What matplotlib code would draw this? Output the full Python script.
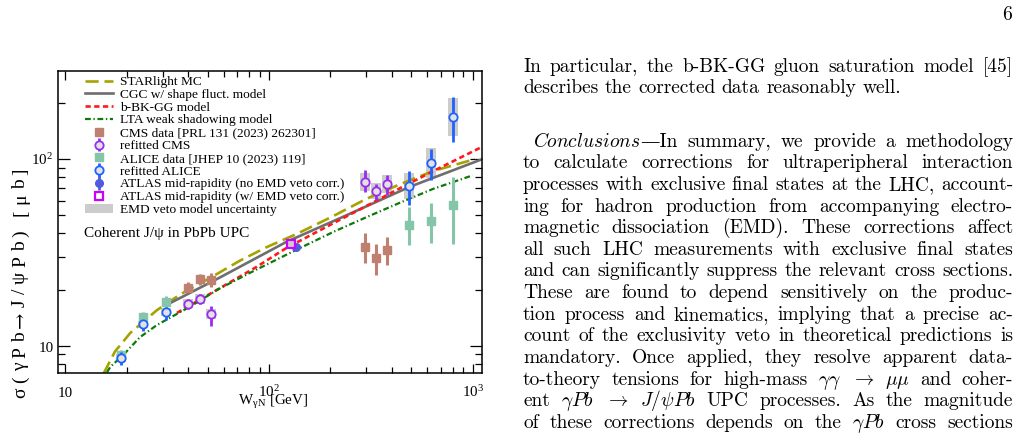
import numpy as np
import matplotlib
matplotlib.use("Agg")
import matplotlib.pyplot as plt
from matplotlib.lines import Line2D
from matplotlib.patches import Patch
from matplotlib.ticker import FixedLocator, LogLocator, NullFormatter
from matplotlib.transforms import blended_transform_factory, offset_copy

# ---------------- data ----------------
starlight_w = [15.4, 17.5, 20.8, 28.1, 36.5, 53.1, 72.0, 97.4, 137, 206, 302, 440, 640, 940, 1030]
starlight_s = [7.1, 9.3, 11.7, 15.5, 18.8, 23.6, 28.6, 33.8, 39.8, 49.5, 61.5, 73.5, 86.5, 97.5, 100.5]

cgc_w = [31.2, 56.4, 122, 223, 493, 1110]
cgc_s = [16.5, 23.0, 36.1, 48.3, 71.3, 100]

bbk_w = [35.3, 55.3, 87.0, 122, 207, 302, 440, 642, 1120]
bbk_s = [15.0, 19.9, 26.5, 33.5, 45.4, 56.3, 70.0, 86.5, 117]

lta_w = [16.0, 16.6, 19.2, 23.2, 28.1, 40.9, 56.4, 80, 137, 207, 302, 440, 642, 1000]
lta_s = [7.2, 7.7, 8.9, 11.1, 12.9, 16.2, 20.1, 24.5, 32.8, 40.8, 49.0, 58.5, 69.5, 82.0]

cms_w = [40.1, 45.8, 51.9, 296, 334, 380]
cms_s = [20.4, 22.7, 22.4, 34.0, 29.7, 32.6]
cms_lo = [19.4, 21.2, 20.6, 27.8, 23.9, 27.1]
cms_hi = [22.0, 24.3, 24.6, 40.2, 35.1, 38.5]

rcms_s = [16.8, 17.8, 14.8, 75.5, 67.6, 73.7]
rcms_lo = [15.8, 16.7, 12.8, 67.0, 60.5, 64.4]
rcms_hi = [17.9, 19.0, 16.4, 87.6, 73.7, 82.4]
rcms_emd_lo = [15.9, 16.7, 13.9, 67.5, 61.2, 65.9]
rcms_emd_hi = [17.8, 18.9, 15.7, 84.4, 74.6, 82.4]

alice_w = [18.7, 24.0, 31.1, 488, 625, 805]
alice_s = [8.92, 14.3, 17.2, 44.4, 46.7, 56.9]
alice_lo = [8.3, 13.2, 16.1, 34.7, 35.6, 35.1]
alice_hi = [9.5, 15.2, 18.5, 55.7, 58.3, 80.4]

ralice_s = [8.56, 13.0, 15.1, 72.2, 95.9, 169]
ralice_lo = [7.88, 12.0, 13.7, 56.9, 77.4, 124]
ralice_hi = [9.29, 13.7, 16.2, 86.5, 114, 217]
ralice_emd_lo = [8.15, 12.4, 14.4, 61.5, 79.7, 134]
ralice_emd_hi = [9.0, 13.65, 15.9, 84.8, 115.5, 214]

atlas_w = [135]
atlas_s = [33.7]
atlas_lo = [32.6]
atlas_hi = [34.8]

ratlas_w = [128]
ratlas_s = [35.1]
ratlas_lo = [34.0]
ratlas_hi = [36.2]
ratlas_emd_lo = [33.4]
ratlas_emd_hi = [36.9]

legend_labels = [
    "STARlight MC",
    "CGC w/ shape fluct. model",
    "b-BK-GG model",
    "LTA weak shadowing model",
    "CMS data [PRL 131 (2023) 262301]",
    "refitted CMS",
    "ALICE data [JHEP 10 (2023) 119]",
    "refitted ALICE",
    "ATLAS mid-rapidity (no EMD veto corr.)",
    "ATLAS mid-rapidity (w/ EMD veto corr.)",
    "EMD veto model uncertainty",
]
x_tick_vals = [10, 100, 1000]
x_tick_text = ["10", r"$\mathregular{10^{2}}$", r"$\mathregular{10^{3}}$"]
y_tick_vals = [10, 100]
y_tick_text = ["10", r"$\mathregular{10^{2}}$"]
x_label = r"W$_{\mathregular{\gamma N}}$ [GeV]"
y_label = "\u03c3(\u03b3Pb\u2192J/\u03c8Pb) [\u03bcb]"
panel_note = "Coherent J/\u03c8 in PbPb UPC"

page_number = "6"
body_lines = [
    (["In particular, the b-BK-GG gluon saturation model [45]"], True, 0),
    (["describes the corrected data reasonably well."], False, 0),
    ([[r"$\mathit{Conclusions}$", "\u2014In"], "summary, we provide a methodology"], True, 10),
    (["to calculate corrections for ultraperipheral interaction"], True, 0),
    (["processes with exclusive final states at the LHC, account-"], True, 0),
    (["ing for hadron production from accompanying electro-"], True, 0),
    (["magnetic dissociation (EMD). These corrections affect"], True, 0),
    (["all such LHC measurements with exclusive final states"], True, 0),
    (["and can significantly suppress the relevant cross sections."], True, 0),
    (["These are found to depend sensitively on the produc-"], True, 0),
    (["tion process and kinematics, implying that a precise ac-"], True, 0),
    (["count of the exclusivity veto in theoretical predictions is"], True, 0),
    (["mandatory. Once applied, they resolve apparent data-"], True, 0),
    (["to-theory tensions for high-mass", r"$\gamma\gamma$", r"$\rightarrow$", r"$\mu\mu$", "and coher-"], True, 0),
    (["ent", r"$\gamma Pb$", r"$\rightarrow$", r"$J/\psi Pb$", "UPC processes. As the magnitude"], True, 0),
    (["of these corrections depends on the", r"$\gamma Pb$", "cross sections"], True, 0),
]

# ---------------- styles ----------------
W_PX, H_PX = 1019, 448
plt.rcParams["mathtext.fontset"] = "stix"
SERIF = ["Liberation Serif", "DejaVu Serif"]
plt.rcParams["font.family"] = SERIF

C_STAR = "#a6a300"
C_CGC = "#6e6e6e"
C_BBK = "#ff1a1a"
C_LTA = "#0a7a0a"
C_CMS = "#c0806f"
C_RCMS = "#9a2cf2"
C_ALICE = "#84c6a7"
C_RALICE = "#1f62ff"
C_ATLAS = "#4f5ce0"
C_RATLAS = "#cc00ff"
C_EMD = "#cccccc"

fig = plt.figure(figsize=(W_PX / 100, H_PX / 100), dpi=100)
renderer = fig.canvas.get_renderer()
ax = fig.add_axes([58 / W_PX, 1 - 373 / H_PX, 424 / W_PX, 302 / H_PX])
ax.set_xscale("log")
ax.set_yscale("log")
ax.set_xlim(9.19, 1113)
ax.set_ylim(7.14, 297.7)

# EMD uncertainty boxes
BOX_F = 10 ** (5 / 203.5)
def emd_boxes(ws, lo, hi):
    for w, a, b in zip(ws, lo, hi):
        ax.fill_between([w / BOX_F, w * BOX_F], [a, a], [b, b], color=C_EMD, lw=0, zorder=1)

emd_boxes(cms_w, rcms_emd_lo, rcms_emd_hi)
emd_boxes(alice_w, ralice_emd_lo, ralice_emd_hi)
emd_boxes(ratlas_w, ratlas_emd_lo, ratlas_emd_hi)

# model curves
h_star, = ax.plot(starlight_w, starlight_s, color=C_STAR, lw=1.9, ls=(0, (5, 2.2)), zorder=2)
h_cgc, = ax.plot(cgc_w, cgc_s, color=C_CGC, lw=1.9, zorder=2)
h_bbk, = ax.plot(bbk_w, bbk_s, color=C_BBK, lw=1.9, ls=(0, (2, 1.3)), zorder=2)
h_lta, = ax.plot(lta_w, lta_s, color=C_LTA, lw=1.6, ls=(0, (2.6, 1.2, 0.6, 1.2)), zorder=2)

def yerr(s, lo, hi):
    s = np.asarray(s); return [s - np.asarray(lo), np.asarray(hi) - s]

ax.errorbar(cms_w, cms_s, yerr=yerr(cms_s, cms_lo, cms_hi), fmt="s", ms=5.2,
            color=C_CMS, elinewidth=2.2, capsize=0, zorder=3)
ax.errorbar(alice_w, alice_s, yerr=yerr(alice_s, alice_lo, alice_hi), fmt="s", ms=5.2,
            color=C_ALICE, elinewidth=2.2, capsize=0, zorder=3)
h_rcms = ax.errorbar(cms_w, rcms_s, yerr=yerr(rcms_s, rcms_lo, rcms_hi), fmt="o", ms=6,
                     mfc="#e2e2e2", mec=C_RCMS, mew=1.3, ecolor=C_RCMS, elinewidth=2, capsize=0, zorder=4)
h_ralice = ax.errorbar(alice_w, ralice_s, yerr=yerr(ralice_s, ralice_lo, ralice_hi), fmt="o", ms=6,
                       mfc="#e2e2e2", mec=C_RALICE, mew=1.3, ecolor=C_RALICE, elinewidth=2, capsize=0, zorder=4)
h_atlas = ax.errorbar(atlas_w, atlas_s, yerr=yerr(atlas_s, atlas_lo, atlas_hi), fmt="o", ms=5.5,
                      color=C_ATLAS, elinewidth=2, capsize=0, zorder=4)
ax.errorbar(ratlas_w, ratlas_s, yerr=yerr(ratlas_s, ratlas_lo, ratlas_hi), fmt="s", ms=6,
            mfc=C_EMD, mec=C_RATLAS, mew=1.6, ecolor=C_RATLAS, elinewidth=1.5, capsize=0, zorder=4)

# axes styling
for sp in ax.spines.values():
    sp.set_linewidth(1.1)
ax.xaxis.set_major_locator(FixedLocator(x_tick_vals))
ax.xaxis.set_minor_locator(LogLocator(base=10, subs=np.arange(2, 10)))
ax.yaxis.set_major_locator(FixedLocator(y_tick_vals))
ax.yaxis.set_minor_locator(LogLocator(base=10, subs=np.arange(2, 10)))
for a in (ax.xaxis, ax.yaxis):
    a.set_major_formatter(NullFormatter())
    a.set_minor_formatter(NullFormatter())
ax.tick_params(which="both", direction="in", top=True, right=True, width=0.9, color="black")
ax.tick_params(axis="x", which="major", length=6.2)
ax.tick_params(axis="x", which="minor", length=4.3)
ax.tick_params(axis="y", which="major", length=8.6)
ax.tick_params(axis="y", which="minor", length=5.0)

TICK_FS = 10.8
bx = blended_transform_factory(ax.transData, ax.transAxes)
for v, t in zip(x_tick_vals, x_tick_text):
    ax.text(v, (373 - 396.7) / 302, t, transform=bx, ha="center", va="baseline",
            fontsize=TICK_FS, family=SERIF)
by = offset_copy(blended_transform_factory(ax.transAxes, ax.transData), fig=fig, x=0, y=-5.8, units="dots")
for v, t in zip(y_tick_vals, y_tick_text):
    ax.text((53.3 - 58) / 424, v, t, transform=by, ha="right", va="baseline",
            fontsize=TICK_FS, family=SERIF)

fig.text(308.3 / W_PX, 1 - 405 / H_PX, x_label, ha="right", va="baseline",
         fontsize=10.8, family=SERIF)

# y title (ROOT-style, long): spans from y=398 (bottom) to y=168 (top)
YL_FS = 14.0
YL_BOTTOM, YL_TOP, YL_BASE_X = 398.0, 168.0, 25.0
chars = list(y_label)
fams = [["DejaVu Serif"] if ch == "\u2192" else SERIF for ch in chars]
cw = []
for ch, fam in zip(chars, fams):
    if ch == " ":
        cw.append(0.25 * YL_FS * 100 / 72)
    else:
        tmp = fig.text(0, 0, ch, fontsize=YL_FS, family=fam)
        cw.append(tmp.get_window_extent(renderer).width)
        tmp.remove()
ygap = ((YL_BOTTOM - YL_TOP) - sum(cw)) / (len(chars) - 1)
ypos = YL_BOTTOM
for ch, w, fam in zip(chars, cw, fams):
    if ch != " ":
        fig.text(YL_BASE_X / W_PX, 1 - ypos / H_PX, ch, rotation=90, rotation_mode="anchor",
                 ha="left", va="baseline", fontsize=YL_FS, family=fam)
    ypos -= w + ygap

ax.text((84 - 58) / 424, (373 - 234) / 302, panel_note, transform=ax.transAxes,
        ha="left", va="center", fontsize=11, family=SERIF)

# legend
h_cms_leg = Line2D([], [], ls="none", marker="s", ms=6, color=C_CMS)
h_alice_leg = Line2D([], [], ls="none", marker="s", ms=6, color=C_ALICE)
h_ratlas_leg = Line2D([], [], ls="none", marker="s", ms=5.5, mfc="white", mec=C_RATLAS, mew=1.6)
h_emd_leg = Patch(facecolor=C_EMD, edgecolor="none")
handles = [h_star, h_cgc, h_bbk, h_lta, h_cms_leg, h_rcms, h_alice_leg, h_ralice, h_atlas, h_ratlas_leg, h_emd_leg]
leg = ax.legend(handles, legend_labels, loc="upper left", bbox_to_anchor=((85 - 58) / 424, (373 - 76) / 302),
                frameon=False, handlelength=2.1, handletextpad=0.5, labelspacing=0.06,
                borderpad=0, borderaxespad=0, handleheight=0.6, prop={"family": SERIF, "size": 9.6})

# ---------------- body text on the right ----------------
TXT_FAMILY = ["cmr10", "DejaVu Serif"]
TXT_FS = 14.0
X0, X1 = 523.0, 1013.0
SPACE = 6.5
baselines = [71.7, 93.3, 146.7, 168.3, 190.0, 211.7, 233.3, 254.9, 276.5, 298.1,
             319.7, 341.3, 362.9, 384.5, 406.1, 427.7]

def make_word(segs, yb):
    objs = []
    for s in segs:
        t = fig.text(0, 1 - yb / H_PX, s, fontsize=TXT_FS, family=TXT_FAMILY, math_fontfamily="cm",
                     va="baseline", ha="left")
        objs.append(t)
    ws = [o.get_window_extent(renderer).width for o in objs]
    return objs, ws

for (parts, justify, indent), yb in zip(body_lines, baselines):
    words = []
    for p in parts:
        if isinstance(p, list):
            words.append(p)
        elif p.startswith("$"):
            words.append([p])
        else:
            words.extend([[w] for w in p.split(" ")])
    built = [make_word(w, yb) for w in words]
    widths = [sum(ws) for _, ws in built]
    x_start = X0 + indent
    n = len(built)
    gap = (X1 - x_start - sum(widths)) / (n - 1) if (justify and n > 1) else SPACE
    x = x_start
    for (objs, ws), wsum in zip(built, widths):
        xx = x
        for o, w in zip(objs, ws):
            o.set_x(xx / W_PX)
            xx += w
        x += wsum + gap

fig.text(1012 / W_PX, 1 - 20 / H_PX, page_number, fontsize=TXT_FS, family=TXT_FAMILY,
         ha="right", va="baseline")

fig.savefig("out.png", dpi=100)
